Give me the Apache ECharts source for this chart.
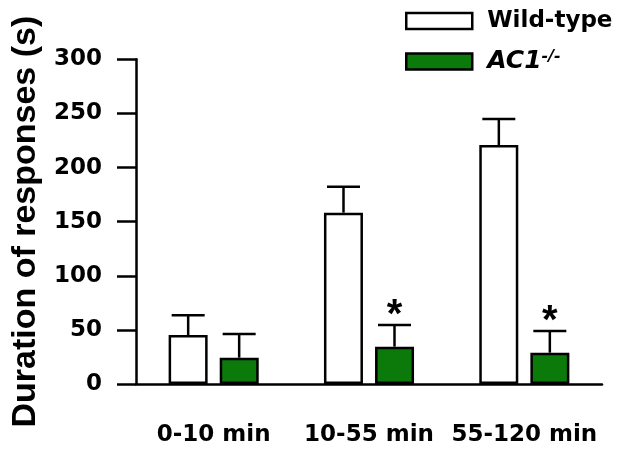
<!DOCTYPE html>
<html>
<head>
<meta charset="utf-8">
<script src="https://cdn.jsdelivr.net/npm/echarts@6/dist/echarts.min.js"></script>
<style>
html,body{margin:0;padding:0;background:#fff;}
#chart{width:637px;height:453px;}
</style>
</head>
<body>
<div id="chart"></div>
<script>
// ---- data ----
const categories = ['0-10 min', '10-55 min', '55-120 min'];
const wtMean = [45.3, 158.3, 220.8];
const wtErr = [18.2, 24.0, 24.0];
const acMean = [24.3, 34.5, 28.9];
const acErr = [21.9, 20.0, 20.1];
const acSig = ['', '*', '*'];
const yTicks = [0, 50, 100, 150, 200, 250, 300];

// ---- style constants ----
const BAR_W = 39;
const PAIR_OFFSET = 25.5;
const CAP_HALF = 16.5;
const GREEN = '#0b7a0b';
const LBL_FONT = 'DejaVu Sans';

function errSeries(name, means, errs, offset, sigs) {
  return {
    type: 'custom',
    name: name + ' err',
    z: 5,
    data: means.map((m, i) => [i, m, errs[i]]),
    renderItem: function (params, api) {
      const i = api.value(0), m = api.value(1), e = api.value(2);
      const p0 = api.coord([i, m]);
      const p1 = api.coord([i, m + e]);
      const cx = p0[0] + offset;
      const style = { stroke: '#000', lineWidth: 2.5 };
      const children = [
        { type: 'line', shape: { x1: cx, y1: p0[1], x2: cx, y2: p1[1] }, style: style },
        { type: 'line', shape: { x1: cx - CAP_HALF, y1: p1[1], x2: cx + CAP_HALF, y2: p1[1] }, style: style }
      ];
      if (sigs && sigs[params.dataIndex]) {
        children.push({
          type: 'text',
          style: {
            x: cx, y: p1[1] + 11, text: sigs[params.dataIndex],
            align: 'center', verticalAlign: 'bottom',
            font: 'bold 40px "Liberation Sans"', fill: '#000'
          }
        });
      }
      return { type: 'group', children: children };
    }
  };
}

const chart = echarts.init(document.getElementById('chart'));
chart.setOption({
  animation: false,
  backgroundColor: '#fff',
  grid: { left: 136, right: 35, top: 59.3, bottom: 69 },
  legend: {
    orient: 'vertical',
    left: 405,
    top: 9.5,
    padding: 0,
    itemWidth: 66,
    itemHeight: 16,
    itemGap: 16,
    icon: 'rect',
    data: ['Wild-type', 'AC1'],
    itemStyle: { borderColor: '#000', borderWidth: 2.5 },
    formatter: function (name) {
      return name === 'AC1' ? '{it|AC1}{sup|-/-}' : '{n|' + name + '}';
    },
    textStyle: {
      color: '#000',
      padding: [0, 0, 0, 10],
      rich: {
        n: { fontFamily: LBL_FONT, fontWeight: 'bold', fontSize: 23, lineHeight: 26, color: '#000' },
        it: { fontFamily: LBL_FONT, fontWeight: 'bold', fontStyle: 'italic', fontSize: 25, lineHeight: 26, color: '#000' },
        sup: { fontFamily: LBL_FONT, fontWeight: 'bold', fontStyle: 'italic', fontSize: 16, lineHeight: 18, verticalAlign: 'top', color: '#000' }
      }
    }
  },
  xAxis: {
    type: 'category',
    data: categories,
    axisLine: { lineStyle: { color: '#000', width: 2.5 } },
    axisTick: { show: false },
    axisLabel: {
      interval: 0, hideOverlap: false,
      color: '#000', fontFamily: LBL_FONT, fontWeight: 'bold', fontSize: 23, margin: 40
    }
  },
  yAxis: {
    type: 'value',
    min: 0, max: 300, interval: 50,
    name: 'Duration of responses (s)',
    nameLocation: 'middle',
    nameGap: 78,
    nameTextStyle: { color: '#000', fontFamily: 'Liberation Sans', fontWeight: 'bold', fontSize: 34 },
    splitLine: { show: false },
    axisLine: { show: true, lineStyle: { color: '#000', width: 2.5 } },
    axisTick: { show: true, length: 19, lineStyle: { color: '#000', width: 2.5 } },
    axisLabel: {
      color: '#000', fontFamily: LBL_FONT, fontWeight: 'bold', fontSize: 23, margin: 34,
      formatter: function (v) { return yTicks.indexOf(v) >= 0 ? String(v) : ''; }
    }
  },
  series: [
    {
      name: 'Wild-type', type: 'bar', data: wtMean, barWidth: BAR_W, barGap: '31%',
      itemStyle: { color: '#fff', borderColor: '#000', borderWidth: 2.5 }
    },
    {
      name: 'AC1', type: 'bar', data: acMean, barWidth: BAR_W, barGap: '31%',
      itemStyle: { color: GREEN, borderColor: '#000', borderWidth: 2.5 }
    },
    errSeries('Wild-type', wtMean, wtErr, -PAIR_OFFSET, null),
    errSeries('AC1', acMean, acErr, PAIR_OFFSET, acSig)
  ]
});
</script>
</body>
</html>
